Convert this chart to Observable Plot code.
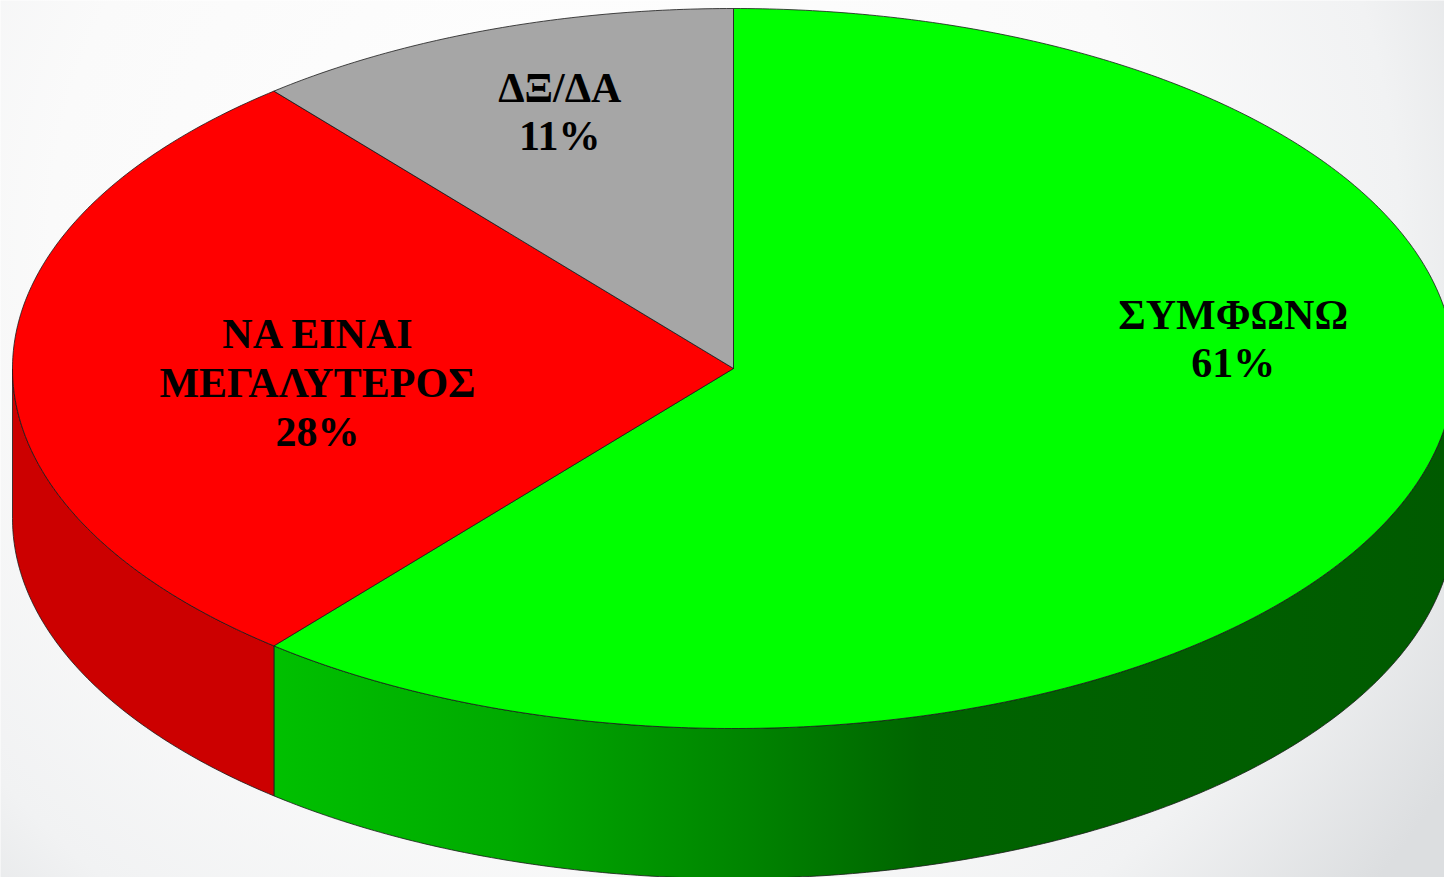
<!DOCTYPE html>
<html>
<head>
<meta charset="utf-8">
<script src="https://cdn.jsdelivr.net/npm/d3@7"></script>
<script src="https://cdn.jsdelivr.net/npm/@observablehq/plot@0.6"></script>
<style>
  html, body { margin: 0; padding: 0; background: #ffffff; overflow: hidden; }
</style>
</head>
<body>
<div id="chart"></div>
<script>
// ---- data ----
const categories = ["ΣΥΜΦΩΝΩ", "ΝΑ ΕΙΝΑΙ\nΜΕΓΑΛΥΤΕΡΟΣ", "ΔΞ/ΔΑ"];
const values = [61, 28, 11];
const topColors = ["#00ff00", "#ff0000", "#a6a6a6"];
const sideColors = ["url(#greenSide)", "#cc0000", "#8a8a8a"];

// ---- layout (pixels) ----
const W = 1444, H = 877;
const CX = 733, CY = 368, RX = 721, RY = 360, DEPTH = 150;
// label anchor as fraction of radii relative to centre
const labelLayout = [[0.693, -0.086], [-0.577, 0.036], [-0.241, -0.717]];

const total = d3.sum(values);
const pt = (t, d = 0) => [CX + RX * Math.sin(t), CY - RY * Math.cos(t) + d];
const arcPts = (a, b, d = 0) => {
  const n = Math.max(2, Math.ceil(Math.abs(b - a) / 0.01));
  return d3.range(n + 1).map(i => pt(a + (b - a) * i / n, d));
};

let acc = 0;
const slices = values.map((v, i) => {
  const a0 = acc / total * 2 * Math.PI;
  acc += v;
  const a1 = acc / total * 2 * Math.PI;
  return {i, v, a0, a1};
});

// side faces (front half only: angles from PI/2 to 3PI/2)
const sides = [];
slices.forEach(s => {
  const s0 = Math.max(s.a0, Math.PI / 2), s1 = Math.min(s.a1, 3 * Math.PI / 2);
  if (s1 > s0) {
    const poly = [...arcPts(s0, s1, 0), ...arcPts(s1, s0, DEPTH)];
    poly.push(poly[0]);
    sides.push({i: s.i, pts: poly.map(([x, y]) => ({x, y, k: s.i}))});
  }
});

// top sectors
const tops = slices.map(s => {
  const poly = [[CX, CY], ...arcPts(s.a0, s.a1, 0), [CX, CY]];
  return {i: s.i, pts: poly.map(([x, y]) => ({x, y, k: s.i}))};
});

const labels = slices.map(s => ({
  text: categories[s.i] + "\n" + values[s.i] + "%",
  x: CX + labelLayout[s.i][0] * RX,
  y: CY + labelLayout[s.i][1] * RY
}));

const defsMark = () => {
  const defs = d3.create("svg:defs");
  const bg = defs.append("radialGradient").attr("id", "bg")
    .attr("gradientUnits", "userSpaceOnUse")
    .attr("cx", 600).attr("cy", 250).attr("r", 1000);
  [[0, "#ffffff"], [0.55, "#fafafa"], [0.8, "#f1f2f3"], [1, "#dcdee0"]]
    .forEach(([o, c]) => bg.append("stop").attr("offset", o).attr("stop-color", c));
  const g = defs.append("linearGradient").attr("id", "greenSide")
    .attr("x1", 0).attr("x2", 1).attr("y1", 0).attr("y2", 0);
  [[0, "#00c000"], [0.2, "#00aa00"], [0.4, "#008400"], [0.55, "#006400"], [1, "#005a00"]]
    .forEach(([o, c]) => g.append("stop").attr("offset", o).attr("stop-color", c));
  return defs.node();
};

const marks = [
  defsMark,
  Plot.frame({fill: "url(#bg)", stroke: "none"})
];
sides.forEach(s => marks.push(Plot.line(s.pts, {
  x: "x", y: "y", fill: sideColors[s.i], stroke: "#1a1a1a", strokeWidth: 0.8, curve: "linear"
})));
tops.forEach(s => marks.push(Plot.line(s.pts, {
  x: "x", y: "y", fill: topColors[s.i], stroke: "#1a1a1a", strokeWidth: 0.8, curve: "linear"
})));
marks.push(Plot.text(labels, {
  x: "x", y: "y", text: "text",
  fontSize: 42, fontWeight: "bold", fontFamily: "Liberation Serif",
  lineHeight: 1.16, fill: "#000000", textAnchor: "middle", lineAnchor: "middle"
}));

const chart = Plot.plot({
  width: W, height: H,
  margin: 0,
  x: {domain: [0, W], axis: null},
  y: {domain: [0, H], reverse: true, axis: null},
  style: {background: "transparent", overflow: "hidden"},
  marks
});
document.getElementById("chart").appendChild(chart);
</script>
</body>
</html>
